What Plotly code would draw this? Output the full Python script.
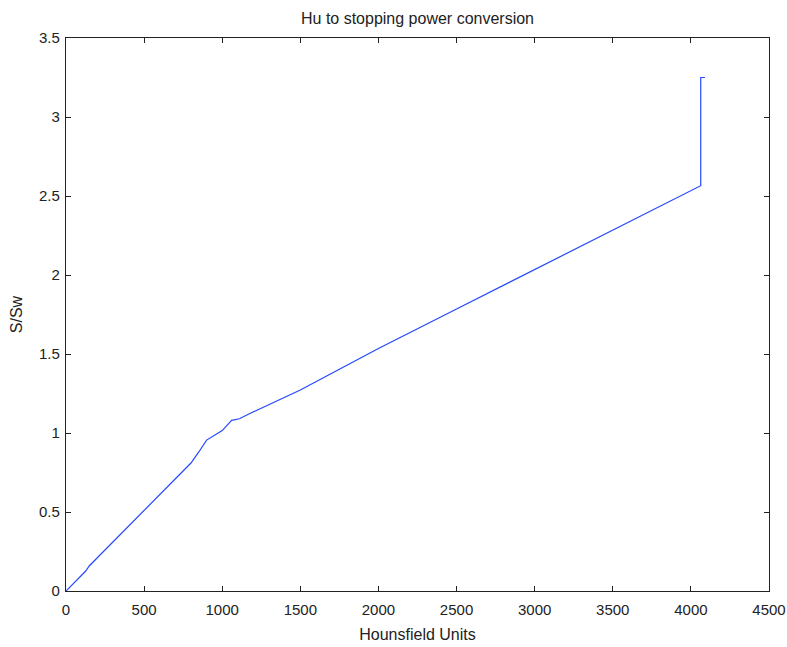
import plotly.graph_objects as go

# Data
hu = [0, 125, 150, 800, 850, 900, 1000, 1060, 1110, 1180, 1500, 2000, 2500, 3000, 3500, 4063, 4063, 4090]
s_sw = [0, 0.125, 0.16, 0.81, 0.88, 0.955, 1.015, 1.08, 1.09, 1.125, 1.272, 1.535, 1.785, 2.035, 2.285, 2.565, 3.25, 3.25]

x_ticks = [0, 500, 1000, 1500, 2000, 2500, 3000, 3500, 4000, 4500]
y_ticks = [0, 0.5, 1, 1.5, 2, 2.5, 3, 3.5]
y_tick_text = ["0", "0.5", "1", "1.5", "2", "2.5", "3", "3.5"]

FONT = "Liberation Sans, Arial"
TXT = "#222"

fig = go.Figure()
fig.add_trace(go.Scatter(x=hu, y=s_sw, mode="lines",
                         line=dict(color="#2448ff", width=1.2),
                         showlegend=False))

axis_common = dict(showline=True, linecolor=TXT, linewidth=1.2, mirror="ticks",
                   ticks="inside", ticklen=5, tickcolor=TXT, tickwidth=1.2,
                   showgrid=False, zeroline=False, automargin=False,
                   tickfont=dict(family=FONT, size=15, color=TXT))

fig.update_layout(
    width=787, height=647,
    margin=dict(l=66, r=18, t=38, b=56),
    paper_bgcolor="white", plot_bgcolor="white",
    title=dict(text="Hu to stopping power conversion", x=0.5, xref="paper",
               xanchor="center", y=1 - 18 / 647, yanchor="middle",
               font=dict(family=FONT, size=16, color=TXT)),
    xaxis=dict(range=[0, 4500], tickvals=x_ticks, ticklabeloverflow="allow",
               ticklabelstandoff=5,
               title=dict(text="Hounsfield Units", standoff=11,
                          font=dict(family=FONT, size=16, color=TXT)),
               **axis_common),
    yaxis=dict(range=[0, 3.5], tickvals=y_ticks, ticktext=y_tick_text,
               ticklabelstandoff=2,
               title=dict(text="S/Sw", standoff=12,
                          font=dict(family=FONT, size=16, color=TXT)),
               **axis_common),
)

fig.write_html("out.html")
